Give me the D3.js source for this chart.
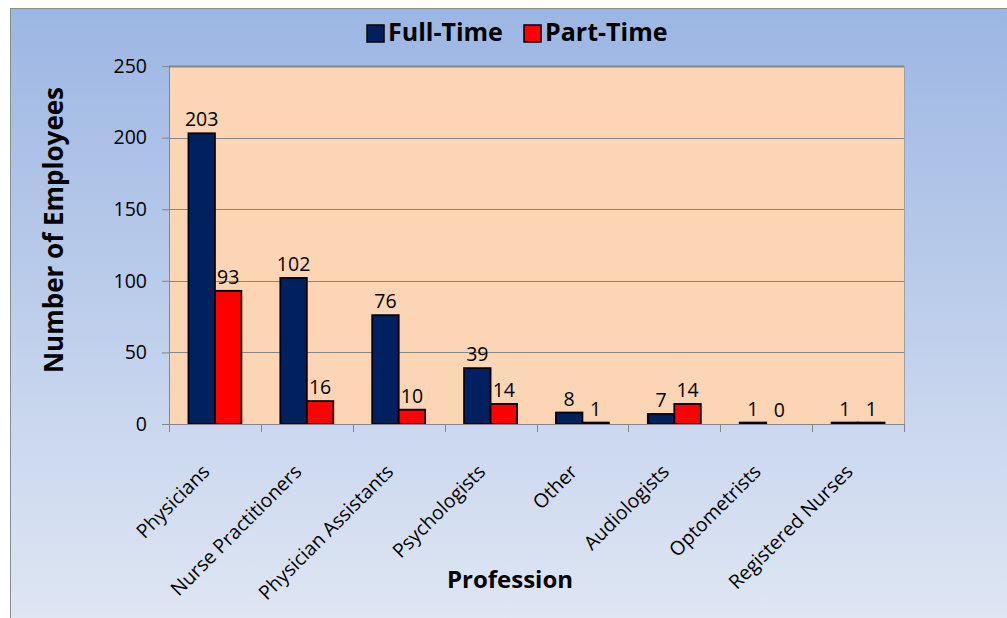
<!DOCTYPE html>
<html><head><meta charset="utf-8">
<script src="https://cdn.jsdelivr.net/npm/d3@7"></script>
<style>body{margin:0;background:#fff}svg{display:block}</style>
</head><body>
<svg id="c" width="1007" height="618"></svg>
<script>
const categories = ["Physicians","Nurse Practitioners","Physician Assistants","Psychologists","Other","Audiologists","Optometrists","Registered Nurses"];
const fullTime = [203,102,76,39,8,7,1,1];
const partTime = [93,16,10,14,1,14,0,1];
const seriesNames = ["Full-Time","Part-Time"];
const seriesColors = ["#002060","#ff0000"];
const yTicks = [0,50,100,150,200,250];

const svg = d3.select("#c");
const font = "'Open Sans', 'Noto Sans', sans-serif";
const defs = svg.append("defs");
const g = defs.append("linearGradient").attr("id","bg").attr("x1",0).attr("y1",0).attr("x2",0).attr("y2",1);
g.append("stop").attr("offset","0%").attr("stop-color","#9cb6e3");
g.append("stop").attr("offset","100%").attr("stop-color","#e0e7f4");

svg.append("rect").attr("x",10.5).attr("y",8.5).attr("width",1010).attr("height",620)
  .attr("fill","url(#bg)").attr("stroke","#8c8c8c").attr("stroke-width",1);

const L=169, R=904, T=66, B=424;
const x = d3.scaleBand().domain(categories).range([L,R]).paddingInner(0).paddingOuter(0);
const y = d3.scaleLinear().domain([0,250]).range([B,T]);

svg.append("rect").attr("x",L).attr("y",T).attr("width",R-L).attr("height",B-T).attr("fill","#fcd5b5");

// gridlines
svg.append("g").selectAll("line").data(yTicks.filter(d=>d>0)).join("line")
  .attr("x1",L).attr("x2",R).attr("y1",d=>Math.round(y(d))+0.5).attr("y2",d=>Math.round(y(d))+0.5)
  .attr("stroke","#868686").attr("stroke-width",d=>d===250?2:1);
svg.append("line").attr("x1",R+0.5).attr("x2",R+0.5).attr("y1",T).attr("y2",B).attr("stroke","#a0a0a0");

const xs = d3.scaleBand().domain(seriesNames).range([0,x.bandwidth()]).paddingOuter(0.735).paddingInner(0);
const data = categories.map((c,i)=>({c, v:[fullTime[i],partTime[i]]}));

const grp = svg.append("g").selectAll("g").data(data).join("g").attr("transform",d=>`translate(${x(d.c)},0)`);
grp.selectAll("rect").data(d=>d.v.map((v,k)=>({v,k}))).join("rect")
  .attr("x",d=>xs(seriesNames[d.k])).attr("width",xs.bandwidth())
  .attr("y",d=>y(d.v)).attr("height",d=>B-y(d.v))
  .attr("fill",d=>seriesColors[d.k]).attr("stroke","#000").attr("stroke-width",1.8);
grp.selectAll("text").data(d=>d.v.map((v,k)=>({v,k}))).join("text")
  .attr("x",d=>xs(seriesNames[d.k])+xs.bandwidth()/2).attr("y",d=>y(d.v)-7)
  .attr("text-anchor","middle").attr("font-family",font).attr("font-size",19.5).attr("fill","#000")
  .text(d=>d.v);

// axes
const yAxis = svg.append("g").attr("transform",`translate(${L},0)`)
  .call(d3.axisLeft(y).tickValues(yTicks).tickSize(7).tickPadding(15));
yAxis.select(".domain").attr("stroke","#868686");
yAxis.selectAll(".tick line").attr("stroke","#868686");
yAxis.selectAll("text").attr("font-family",font).attr("font-size",19.5).attr("fill","#000");

const xAxis = svg.append("g").attr("transform",`translate(0,${B})`);
xAxis.append("line").attr("x1",L-7).attr("x2",R).attr("y1",0.5).attr("y2",0.5).attr("stroke","#868686");
xAxis.selectAll("line.t").data(d3.range(categories.length+1)).join("line").attr("class","t")
  .attr("x1",i=>Math.round(L+i*x.step())+0.5).attr("x2",i=>Math.round(L+i*x.step())+0.5)
  .attr("y1",0).attr("y2",8).attr("stroke","#868686");
xAxis.selectAll("text").data(categories).join("text")
  .attr("transform",d=>`translate(${x(d)+x.bandwidth()/2-4},${49}) rotate(-45)`)
  .attr("text-anchor","end").attr("font-family",font).attr("font-size",19.5).attr("fill","#000")
  .text(d=>d);

// axis titles
svg.append("text").attr("transform","translate(63,230) rotate(-90)").attr("text-anchor","middle")
  .attr("font-family",font).attr("font-weight","bold").attr("font-size",26).text("Number of Employees");
svg.append("text").attr("x",510).attr("y",588).attr("text-anchor","middle")
  .attr("font-family",font).attr("font-weight","bold").attr("font-size",24).text("Profession");

// legend
const leg = svg.append("g");
const legX = [367,524];
seriesNames.forEach((s,k)=>{
  leg.append("rect").attr("x",legX[k]).attr("y",25).attr("width",17).attr("height",17)
    .attr("fill",seriesColors[k]).attr("stroke","#000").attr("stroke-width",1.5);
  leg.append("text").attr("x",legX[k]+21).attr("y",41).attr("font-family",font).attr("font-weight","bold")
    .attr("font-size",25).text(s);
});
</script>
</body></html>
